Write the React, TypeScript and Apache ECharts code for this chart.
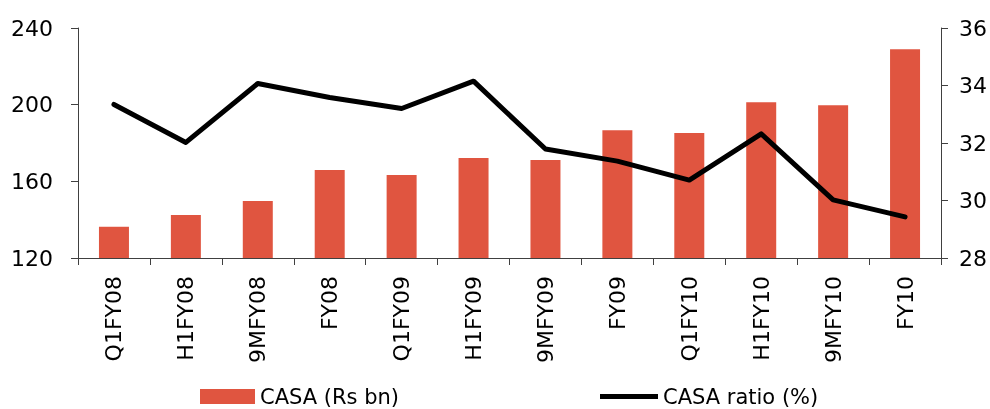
import React, { useEffect, useRef } from "react";
import * as echarts from "echarts";

const categories = [
  "Q1FY08", "H1FY08", "9MFY08", "FY08", "Q1FY09", "H1FY09",
  "9MFY09", "FY09", "Q1FY10", "H1FY10", "9MFY10", "FY10",
];
const casaRsBn = [136.3, 142.5, 149.8, 165.9, 163.3, 172.2, 171.1, 186.7, 185.2, 201.3, 199.7, 228.9];
const casaRatioPct = [33.34, 32.02, 34.07, 33.58, 33.2, 34.15, 31.79, 31.37, 30.71, 32.32, 30.02, 29.43];

const FONT = "DejaVu Sans";
const AXIS_COLOR = "#404040";
const BAR_COLOR = "#E05540";

export default function App() {
  const ref = useRef<HTMLDivElement>(null);

  useEffect(() => {
    if (!ref.current) return;
    const chart = echarts.init(ref.current, undefined, { renderer: "svg" });
    const axisLine = { show: true, lineStyle: { color: AXIS_COLOR, width: 1 } };
    const axisTick = { show: true, length: 7, lineStyle: { color: AXIS_COLOR } };
    const legendText = { fontFamily: FONT, fontSize: 21, color: "#000" };
    chart.setOption({
      animation: false,
      textStyle: { fontFamily: FONT, color: "#000" },
      grid: { left: 78, right: 48, top: 28, bottom: 151, containLabel: false },
      legend: [
        {
          data: ["CASA (Rs bn)"],
          left: 200,
          top: 386,
          icon: "rect",
          itemWidth: 55,
          itemHeight: 15,
          padding: 0,
          textStyle: legendText,
        },
        {
          data: [{ name: "CASA ratio (%)", icon: "rect" }],
          left: 600,
          top: 386,
          itemWidth: 58,
          itemHeight: 5,
          padding: 0,
          itemStyle: { color: "#000" },
          textStyle: legendText,
        },
      ],
      xAxis: {
        type: "category",
        data: categories,
        boundaryGap: true,
        axisLine,
        axisTick,
        axisLabel: {
          rotate: 90,
          margin: 18,
          interval: 0,
          fontFamily: FONT,
          fontSize: 22,
          color: "#000",
        },
      },
      yAxis: [
        {
          type: "value",
          min: 120,
          max: 240,
          interval: 40,
          position: "left",
          axisLine,
          axisTick,
          splitLine: { show: false },
          axisLabel: { margin: 25, fontFamily: FONT, fontSize: 22, color: "#000" },
        },
        {
          type: "value",
          min: 28,
          max: 36,
          interval: 2,
          position: "right",
          axisLine,
          axisTick,
          splitLine: { show: false },
          axisLabel: { margin: 18, fontFamily: FONT, fontSize: 22, color: "#000" },
        },
      ],
      series: [
        {
          name: "CASA (Rs bn)",
          type: "bar",
          data: casaRsBn,
          yAxisIndex: 0,
          barWidth: 30,
          itemStyle: { color: BAR_COLOR },
        },
        {
          name: "CASA ratio (%)",
          type: "line",
          data: casaRatioPct,
          yAxisIndex: 1,
          symbol: "none",
          lineStyle: { color: "#000", width: 5, cap: "round", join: "round" },
          itemStyle: { color: "#000" },
        },
      ],
    });
    return () => chart.dispose();
  }, []);

  return (
    <div
      ref={ref}
      style={{ position: "fixed", left: 0, top: 0, width: 990, height: 409 }}
    />
  );
}
